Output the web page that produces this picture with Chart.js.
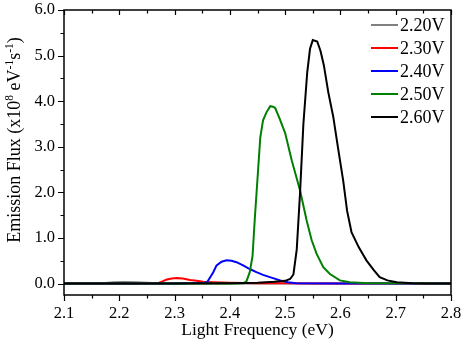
<!DOCTYPE html>
<html>
<head>
<meta charset="utf-8">
<title>Emission Flux</title>
<script src="https://cdn.jsdelivr.net/npm/chart.js@4"></script>
<style>
  body { margin: 0; background: #fff; }
  #wrap { width: 464px; height: 344px; position: relative; }
</style>
</head>
<body>
<div id="wrap"><canvas id="fluxChart"></canvas></div>
<script>
// Series values (x in eV, y in 1e8 eV^-1 s^-1)
const x220 = [2.10, 2.15, 2.17, 2.19, 2.21, 2.23, 2.25, 2.27, 2.30, 2.80];
const y220 = [0.00, 0.00, 0.01, 0.03, 0.035, 0.03, 0.02, 0.01, 0.00, 0.00];

const x230 = [2.10, 2.20, 2.26, 2.270, 2.278, 2.286, 2.295, 2.304, 2.315, 2.328, 2.340, 2.352, 2.37, 2.40, 2.45, 2.50, 2.55, 2.80];
const y230 = [0.00, 0.00, 0.00, 0.01, 0.05, 0.09, 0.11, 0.12, 0.11, 0.08, 0.06, 0.04, 0.03, 0.02, 0.01, 0.005, 0.00, 0.00];

const x240 = [2.10, 2.30, 2.355, 2.360, 2.365, 2.370, 2.376, 2.385, 2.394, 2.403, 2.412, 2.424, 2.436, 2.448, 2.460, 2.475, 2.491, 2.505, 2.52, 2.60, 2.80];
const y240 = [0.00, 0.00, 0.02, 0.05, 0.15, 0.25, 0.40, 0.48, 0.51, 0.50, 0.47, 0.40, 0.32, 0.25, 0.19, 0.13, 0.07, 0.03, 0.01, 0.00, 0.00];

const x250 = [2.10, 2.30, 2.40, 2.425, 2.430, 2.436, 2.441, 2.445, 2.451, 2.455, 2.460, 2.466, 2.473, 2.478, 2.482, 2.490, 2.500, 2.512, 2.527, 2.539, 2.548, 2.557, 2.569, 2.581, 2.599, 2.617, 2.65, 2.70, 2.80];
const y250 = [0.00, 0.00, 0.00, 0.01, 0.05, 0.25, 0.60, 1.40, 2.48, 3.20, 3.58, 3.75, 3.89, 3.88, 3.85, 3.62, 3.30, 2.70, 2.04, 1.38, 0.95, 0.65, 0.36, 0.21, 0.07, 0.03, 0.01, 0.01, 0.00];

const x260 = [2.10, 2.20, 2.30, 2.40, 2.45, 2.48, 2.50, 2.509, 2.515, 2.521, 2.527, 2.533, 2.540, 2.545, 2.550, 2.558, 2.564, 2.570, 2.578, 2.587, 2.596, 2.605, 2.612, 2.620, 2.633, 2.647, 2.660, 2.671, 2.685, 2.702, 2.73, 2.76, 2.80];
const y260 = [0.00, 0.00, 0.00, 0.01, 0.02, 0.04, 0.06, 0.10, 0.20, 0.75, 2.00, 3.50, 4.64, 5.15, 5.34, 5.31, 5.10, 4.79, 4.20, 3.66, 2.95, 2.26, 1.60, 1.13, 0.80, 0.51, 0.30, 0.14, 0.07, 0.03, 0.01, 0.00, 0.00];

const seriesLabels = ['2.20V', '2.30V', '2.40V', '2.50V', '2.60V'];
const seriesColors = ['#808080', '#ff0000', '#0000ff', '#008000', '#000000'];

// Axis ticks
const xTicks = [2.1, 2.2, 2.3, 2.4, 2.5, 2.6, 2.7, 2.8];
const yTicks = [0, 1, 2, 3, 4, 5, 6];

const FONT = 'Liberation Serif, Times New Roman, serif';

function toPoints(xs, ys) {
  return xs.map((v, i) => ({ x: v, y: ys[i] }));
}

const seriesData = [
  toPoints(x220, y220),
  toPoints(x230, y230),
  toPoints(x240, y240),
  toPoints(x250, y250),
  toPoints(x260, y260),
];

// draw order: black on top
const drawOrder = [4, 3, 2, 1, 0];

const datasets = seriesData.map((pts, i) => ({
  label: seriesLabels[i],
  data: pts,
  borderColor: seriesColors[i],
  backgroundColor: seriesColors[i],
  borderWidth: 2,
  pointRadius: 0,
  tension: 0,
  fill: false,
  order: drawOrder[i],
}));

// midpoints between major ticks -> minor ticks
function minors(major) {
  const out = [];
  for (let i = 0; i < major.length - 1; i++) out.push((major[i] + major[i + 1]) / 2);
  return out;
}

// Frame, tick marks, legend and y title
const decorPlugin = {
  id: 'decor',
  afterDraw(chart) {
    const { ctx, chartArea: a, scales } = chart;
    const xs = scales.x;
    const ys = scales.y;
    ctx.save();
    ctx.strokeStyle = '#000';
    ctx.lineWidth = 1.5;
    ctx.strokeRect(a.left, a.top, a.right - a.left, a.bottom - a.top);

    ctx.beginPath();
    xTicks.forEach((v) => {
      const px = Math.round(xs.getPixelForValue(v)) + 0.5;
      ctx.moveTo(px, a.bottom); ctx.lineTo(px, a.bottom + 6);
      ctx.moveTo(px, a.top); ctx.lineTo(px, a.top + 5);
    });
    minors(xTicks).forEach((v) => {
      const px = Math.round(xs.getPixelForValue(v)) + 0.5;
      ctx.moveTo(px, a.bottom); ctx.lineTo(px, a.bottom + 3.5);
      ctx.moveTo(px, a.top); ctx.lineTo(px, a.top + 3.5);
    });
    yTicks.forEach((v) => {
      const py = Math.round(ys.getPixelForValue(v)) + 0.5;
      ctx.moveTo(a.left, py); ctx.lineTo(a.left - 6, py);
    });
    minors(yTicks).forEach((v) => {
      const py = Math.round(ys.getPixelForValue(v)) + 0.5;
      ctx.moveTo(a.left, py); ctx.lineTo(a.left - 3.5, py);
    });
    ctx.lineWidth = 1.2;
    ctx.stroke();

    // legend
    ctx.font = '18px ' + FONT;
    ctx.textBaseline = 'middle';
    ctx.textAlign = 'left';
    seriesLabels.forEach((lab, i) => {
      const ly = 25 + i * 23;
      ctx.strokeStyle = seriesColors[i];
      ctx.lineWidth = 2;
      ctx.beginPath();
      ctx.moveTo(371, ly); ctx.lineTo(398, ly);
      ctx.stroke();
      ctx.fillStyle = '#000';
      ctx.fillText(lab, 400, ly + 1);
    });

    // y axis title with superscripts
    const parts = [
      ['Emission Flux (x10', false],
      ['8', true],
      [' eV', false],
      ['-1', true],
      ['s', false],
      ['-1', true],
      [')', false],
    ];
    const big = '18px ' + FONT;
    const small = '11.5px ' + FONT;
    let total = 0;
    parts.forEach(([t, sup]) => { ctx.font = sup ? small : big; total += ctx.measureText(t).width; });
    ctx.translate(14, 140);
    ctx.rotate(-Math.PI / 2);
    ctx.fillStyle = '#000';
    ctx.textBaseline = 'alphabetic';
    let cx = -total / 2;
    parts.forEach(([t, sup]) => {
      ctx.font = sup ? small : big;
      ctx.fillText(t, cx, sup ? -1 : 6);
      cx += ctx.measureText(t).width;
    });
    ctx.restore();
  },
};

new Chart(document.getElementById('fluxChart'), {
  type: 'line',
  data: { datasets },
  options: {
    responsive: true,
    maintainAspectRatio: false,
    animation: false,
    layout: { padding: { top: 10, right: 13, left: 0, bottom: 0 } },
    plugins: { legend: { display: false }, tooltip: { enabled: false } },
    scales: {
      x: {
        type: 'linear',
        min: 2.1,
        max: 2.8,
        afterBuildTicks: (s) => { s.ticks = xTicks.map((v) => ({ value: v })); },
        afterFit: (s) => {
          s.height = 49;
          s.paddingLeft = 0;
          s.paddingRight = 0;
        },
        grid: { display: false, drawTicks: false },
        border: { display: false },
        ticks: {
          color: '#000',
          padding: 9,
          maxRotation: 0,
          font: { family: FONT, size: 16.5 },
          callback: (v) => Number(v).toFixed(1),
        },
        title: {
          display: true,
          text: 'Light Frequency (eV)',
          color: '#000',
          font: { family: FONT, size: 17.5 },
          padding: { top: 0, bottom: 3 },
        },
      },
      y: {
        type: 'linear',
        min: -0.25,
        max: 6,
        afterBuildTicks: (s) => { s.ticks = yTicks.map((v) => ({ value: v })); },
        afterFit: (s) => {
          s.width = 64;
          s.paddingTop = 0;
          s.paddingBottom = 0;
        },
        grid: { display: false, drawTicks: false },
        border: { display: false },
        ticks: {
          color: '#000',
          padding: 9,
          font: { family: FONT, size: 16.5 },
          callback: (v) => Number(v).toFixed(1),
        },
      },
    },
  },
  plugins: [decorPlugin],
});
</script>
</body>
</html>
